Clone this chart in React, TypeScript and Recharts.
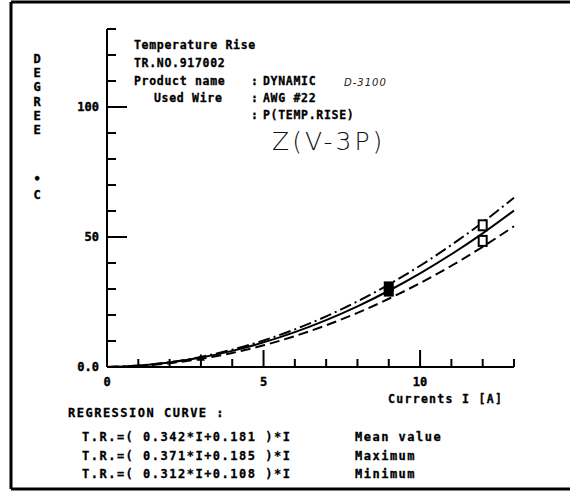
import { ComposedChart, Line, Scatter, XAxis, YAxis } from 'recharts'

// current I [A]
const currents = [0, 1, 2, 3, 4, 5, 6, 7, 8, 9, 10, 11, 12, 13]
// regression curves (deg C)
const meanRise = [0, 0.52, 1.73, 3.62, 6.2, 9.46, 13.4, 18.03, 23.34, 29.33, 36.01, 43.37, 51.42, 60.15]
const maxRise = [0, 0.56, 1.85, 3.89, 6.68, 10.2, 14.47, 19.47, 25.22, 31.72, 38.95, 46.93, 55.64, 65.1]
const minRise = [0, 0.42, 1.46, 3.13, 5.42, 8.34, 11.88, 16.04, 20.83, 26.24, 32.28, 38.94, 46.22, 54.13]

// measured points
const smallPts = [{ i: 3, v: 3.6 }]
const filledPts = [{ i: 9, v: 31 }, { i: 9, v: 29 }]
const openPts = [{ i: 12, v: 54.5 }, { i: 12, v: 48.5 }]

const xTicks = [1, 2, 3, 4, 5, 6, 7, 8, 9, 10, 11, 12, 13]
const yTicks = [10, 20, 30, 40, 50, 60, 70, 80, 90, 100, 110, 120, 130]
const xLabels: Record<number, string> = { 0: '0', 5: '5', 10: '10' }
const yLabels: Record<number, string> = { 0: '0.0', 50: '50', 100: '100' }

const yLetters = ['D', 'E', 'G', 'R', 'E', 'E']

const equations = [
  ['T.R.=( 0.342*I+0.181 )*I', 'Mean value'],
  ['T.R.=( 0.371*I+0.185 )*I', 'Maximum'],
  ['T.R.=( 0.312*I+0.108 )*I', 'Minimum'],
]

const data = currents.map((i, k) => ({
  i,
  mean: meanRise[k],
  max: maxRise[k],
  min: minRise[k],
}))

const mono = '"DejaVu Sans Mono", monospace'

function YTick(props: any) {
  const { x, y, payload } = props
  const v = payload.value
  const major = v % 50 === 0
  return (
    <g>
      <line x1={x} y1={y} x2={x + (major ? 20 : 9)} y2={y} stroke="#000" strokeWidth={2} />
      {yLabels[v] !== undefined && (
        <text x={x - 8} y={y + 4} textAnchor="end" fontFamily={mono} fontWeight="bold" fontSize={12} fill="#000" stroke="#000" strokeWidth={0.4}>
          {yLabels[v]}
        </text>
      )}
    </g>
  )
}

function XTick(props: any) {
  const { x, y, payload } = props
  const v = payload.value
  const major = v % 5 === 0
  return (
    <g>
      {v > 0 && <line x1={x} y1={y} x2={x} y2={y - (major ? 17 : 8)} stroke="#000" strokeWidth={2} />}
      {xLabels[v] !== undefined && (
        <text x={x} y={y + 19} textAnchor="middle" fontFamily={mono} fontWeight="bold" fontSize={12} fill="#000" stroke="#000" strokeWidth={0.4}>
          {xLabels[v]}
        </text>
      )}
    </g>
  )
}

const filledBox = (p: any) => <rect x={p.cx - 5} y={p.cy - 5} width={10} height={10} fill="#000" />
const openBox = (p: any) => (
  <rect x={p.cx - 4} y={p.cy - 5} width={8} height={10} fill="#fff" stroke="#000" strokeWidth={2} />
)
const smallMark = (p: any) => <path d={`M${p.cx - 4},${p.cy + 3} L${p.cx},${p.cy - 4} L${p.cx + 4},${p.cy + 3} Z`} fill="#000" />

export default function App() {
  return (
    <div style={{ position: 'absolute', left: 0, top: 0, width: 570, height: 500, background: '#fff' }}>
      <ComposedChart
        width={570}
        height={500}
        data={data}
        margin={{ top: 29, right: 56, bottom: 113, left: 87 }}
      >
        <XAxis
          dataKey="i"
          type="number"
          domain={[0, 13]}
          ticks={[0, ...xTicks]}
          height={20}
          tickSize={0}
          tickMargin={0}
          tickLine={false}
          axisLine={{ stroke: '#000', strokeWidth: 2 }}
          tick={<XTick />}
          interval={0}
        />
        <YAxis
          type="number"
          domain={[0, 130]}
          ticks={[0, ...yTicks]}
          width={20}
          tickSize={0}
          tickMargin={0}
          tickLine={false}
          axisLine={{ stroke: '#000', strokeWidth: 2 }}
          tick={<YTick />}
          interval={0}
        />
        <Line type="monotone" dataKey="max" stroke="#000" strokeWidth={2} strokeDasharray="12 4 2 4" dot={false} isAnimationActive={false} />
        <Line type="monotone" dataKey="mean" stroke="#000" strokeWidth={2} dot={false} isAnimationActive={false} />
        <Line type="monotone" dataKey="min" stroke="#000" strokeWidth={2} strokeDasharray="10 5" dot={false} isAnimationActive={false} />
        <Scatter data={smallPts} dataKey="v" shape={smallMark} isAnimationActive={false} />
        <Scatter data={filledPts} dataKey="v" shape={filledBox} isAnimationActive={false} />
        <Scatter data={openPts} dataKey="v" shape={openBox} isAnimationActive={false} />
      </ComposedChart>

      <svg width={570} height={500} style={{ position: 'absolute', left: 0, top: 0, pointerEvents: 'none' }}>
        {/* frame */}
        <line x1={11} y1={2} x2={570} y2={2} stroke="#000" strokeWidth={3} />
        <line x1={11} y1={2} x2={11} y2={489} stroke="#000" strokeWidth={3} />
        <line x1={11} y1={489} x2={570} y2={489} stroke="#000" strokeWidth={3} />

        {/* y axis title, stacked letters */}
        <g fontFamily={mono} fontWeight="bold" fontSize={12} fill="#000" stroke="#000" strokeWidth={0.4} textAnchor="middle">
          {yLetters.map((c, k) => (
            <text key={k} x={37} y={63 + k * 14.2}>
              {c}
            </text>
          ))}
          <text x={37} y={183}>•</text>
          <text x={37} y={199}>C</text>
        </g>

        {/* header block */}
        <g fontFamily={mono} fontWeight="bold" fontSize={11.5} fill="#000" stroke="#000" strokeWidth={0.3} letterSpacing={0.7}>
          <text x={134} y={49}>Temperature Rise</text>
          <text x={134} y={67}>TR.NO.917002</text>
          <text x={134} y={85}>Product name</text>
          <text x={154} y={102}>Used Wire</text>
          <text x={251} y={85}>:</text>
          <text x={251} y={102}>:</text>
          <text x={251} y={119}>:</text>
          <text x={263} y={85}>DYNAMIC</text>
          <text x={263} y={102}>AWG #22</text>
          <text x={263} y={119}>P(TEMP.RISE)</text>
        </g>
        <text x={344} y={86} fontFamily='"DejaVu Sans", sans-serif' fontStyle="italic" fontSize={10} fill="#222" letterSpacing={1}>
          D-3100
        </text>
        <text x={272} y={150} fontFamily='"DejaVu Sans", sans-serif' fontWeight={200} fontSize={25} fill="#111" letterSpacing={3}>
          Z(V-3P)
        </text>

        {/* x axis title */}
        <text x={388} y={403} fontFamily={mono} fontWeight="bold" fontSize={11.5} fill="#000" stroke="#000" strokeWidth={0.3} letterSpacing={1.3}>
          Currents I [A]
        </text>

        {/* regression block */}
        <g fontFamily={mono} fontWeight="bold" fontSize={12} fill="#000" stroke="#000" strokeWidth={0.3} letterSpacing={1.5}>
          <text x={68} y={417}>REGRESSION CURVE :</text>
          {equations.map(([eq, name], k) => (
            <g key={k}>
              <text x={82} y={441 + k * 18.5}>{eq}</text>
              <text x={355} y={441 + k * 18.5}>{name}</text>
            </g>
          ))}
        </g>
      </svg>
    </div>
  )
}
